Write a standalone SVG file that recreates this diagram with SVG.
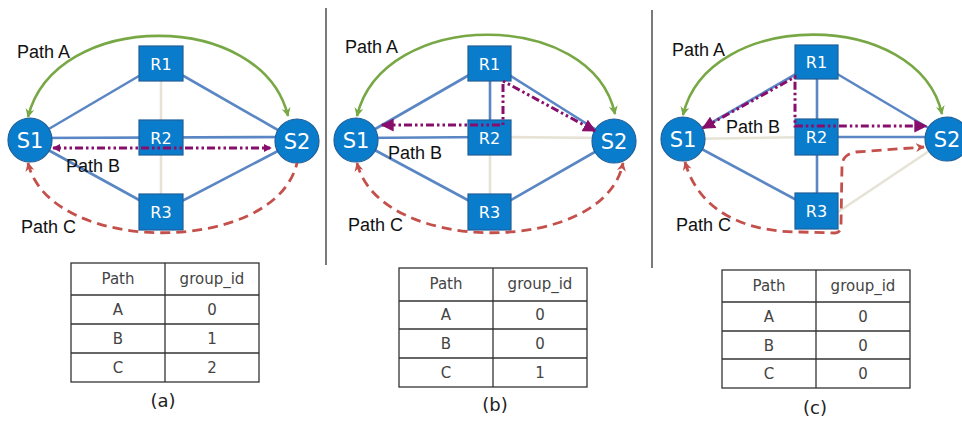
<svg xmlns="http://www.w3.org/2000/svg" width="962" height="422" viewBox="0 0 962 422">
<style>
.bg{fill:#ffffff}
.e{stroke:#5a86c4;stroke-width:2.6;fill:none}
.g{stroke:#e6e3d6;stroke-width:2.6;fill:none}
.pa{stroke:#78a845;stroke-width:2.6;fill:none}
.pb{stroke:#880e6c;stroke-width:3;fill:none;stroke-dasharray:8 3 2.5 3 2.5 3}
.pc{stroke:#c4504c;stroke-width:2.8;fill:none;stroke-dasharray:10 6}
.rn{fill:#0a7ccc;stroke:#1e5f98;stroke-width:1.2}
.sn{fill:#0a7ccc;stroke:#1e5f98;stroke-width:1.2}
.rt{font-family:"DejaVu Sans",sans-serif;font-size:16px;fill:#ffffff;text-anchor:middle}
.st{font-family:"DejaVu Sans",sans-serif;font-size:21px;fill:#ffffff;text-anchor:middle}
.lb{font-family:"Liberation Sans",Arial,sans-serif;font-size:18px;fill:#111}
.tb{fill:none;stroke:#333;stroke-width:1.3}
.tt{font-family:"DejaVu Sans",sans-serif;font-size:15px;fill:#444;text-anchor:middle}
.cap{font-family:"DejaVu Sans",sans-serif;font-size:18px;fill:#222;text-anchor:middle}
.dv{stroke:#333;stroke-width:1.3}
</style>
<defs>
<marker id="mg" viewBox="0 0 10 10" refX="9" refY="5" markerWidth="9" markerHeight="9" markerUnits="userSpaceOnUse" orient="auto-start-reverse"><path d="M0,0 L10,5 L0,10 L3,5 z" fill="#78a845"/></marker>
<marker id="mms" viewBox="0 0 10 10" refX="9" refY="5" markerWidth="8" markerHeight="8" markerUnits="userSpaceOnUse" orient="auto-start-reverse"><path d="M0,0 L10,5 L0,10 z" fill="#880e6c"/></marker>
<marker id="mml" viewBox="0 0 10 10" refX="9" refY="5" markerWidth="13" markerHeight="13" markerUnits="userSpaceOnUse" orient="auto-start-reverse"><path d="M0,0 L10,5 L0,10 z" fill="#880e6c"/></marker>
<marker id="mr" viewBox="0 0 10 10" refX="9" refY="5" markerWidth="9" markerHeight="9" markerUnits="userSpaceOnUse" orient="auto-start-reverse"><path d="M0,0 L10,5 L0,10 L3,5 z" fill="#c4504c"/></marker>
</defs>
<rect class="bg" x="0" y="0" width="962" height="422"/>

<g id="dividers">
<line class="dv" x1="326" y1="8" x2="326" y2="265"/>
<line class="dv" x1="652" y1="10" x2="652" y2="268"/>
</g>

<g id="connectors">
<!-- panel a -->
<line class="g" x1="161" y1="81" x2="161" y2="120"/>
<line class="g" x1="161" y1="155" x2="161" y2="194"/>
<line class="e" x1="30" y1="140" x2="161" y2="63"/>
<line class="e" x1="161" y1="63" x2="297" y2="141"/>
<line class="e" x1="30" y1="138" x2="297" y2="137"/>
<line class="e" x1="30" y1="140" x2="161" y2="212"/>
<line class="e" x1="161" y1="212" x2="297" y2="141"/>
<!-- panel b -->
<line class="g" x1="490" y1="137" x2="614" y2="138"/>
<line class="g" x1="490" y1="155" x2="490" y2="194"/>
<line class="e" x1="490" y1="63" x2="490" y2="120"/>
<line class="e" x1="356" y1="140" x2="490" y2="63"/>
<line class="e" x1="490" y1="63" x2="614" y2="141"/>
<line class="e" x1="356" y1="138" x2="490" y2="137"/>
<line class="e" x1="356" y1="140" x2="490" y2="212"/>
<line class="e" x1="490" y1="212" x2="614" y2="141"/>
<!-- panel c -->
<line class="g" x1="683" y1="139" x2="817" y2="137"/>
<line class="g" x1="838" y1="212" x2="947" y2="139"/>
<line class="e" x1="817" y1="62" x2="817" y2="211"/>
<line class="e" x1="683" y1="139" x2="817" y2="62"/>
<line class="e" x1="817" y1="62" x2="947" y2="139"/>
<line class="e" x1="817" y1="137" x2="947" y2="137"/>
<line class="e" x1="683" y1="139" x2="817" y2="211"/>
</g>

<g id="a-S1"><circle class="sn" cx="30" cy="140" r="22"/><text class="st" x="30" y="148">S1</text></g>
<g id="a-S2"><circle class="sn" cx="297" cy="141" r="22"/><text class="st" x="297" y="149">S2</text></g>
<g id="a-R1"><rect class="rn" x="139" y="46" width="44" height="35"/><text class="rt" x="161" y="70">R1</text></g>
<g id="a-R2"><rect class="rn" x="139" y="120" width="44" height="35"/><text class="rt" x="161" y="144">R2</text></g>
<g id="a-R3"><rect class="rn" x="139" y="194" width="44" height="36"/><text class="rt" x="161" y="218">R3</text></g>

<g id="b-S1"><circle class="sn" cx="356" cy="140" r="22"/><text class="st" x="356" y="148">S1</text></g>
<g id="b-S2"><circle class="sn" cx="614" cy="141" r="22"/><text class="st" x="614" y="149">S2</text></g>
<g id="b-R1"><rect class="rn" x="468" y="46" width="43" height="35"/><text class="rt" x="489.5" y="70">R1</text></g>
<g id="b-R2"><rect class="rn" x="468" y="120" width="43" height="35"/><text class="rt" x="489.5" y="144">R2</text></g>
<g id="b-R3"><rect class="rn" x="468" y="194" width="43" height="36"/><text class="rt" x="489.5" y="218">R3</text></g>

<g id="c-S1"><circle class="sn" cx="683" cy="139" r="22"/><text class="st" x="683" y="147">S1</text></g>
<g id="c-S2"><circle class="sn" cx="947" cy="139" r="22"/><text class="st" x="947" y="147">S2</text></g>
<g id="c-R1"><rect class="rn" x="795" y="45" width="43" height="34"/><text class="rt" x="816.5" y="68">R1</text></g>
<g id="c-R2"><rect class="rn" x="795" y="119" width="43" height="36"/><text class="rt" x="816.5" y="143">R2</text></g>
<g id="c-R3"><rect class="rn" x="795" y="193" width="43" height="36"/><text class="rt" x="816.5" y="217">R3</text></g>

<g id="path-connectors">
<path class="pa" d="M28,117 C55,9 262,9 288,116" marker-start="url(#mg)" marker-end="url(#mg)"/>
<path class="pb" d="M53,148 L271,148" marker-start="url(#mms)" marker-end="url(#mms)"/>
<path class="pc" d="M28,163 C50,256 275,256 297,163" marker-start="url(#mr)"/>
<path class="pa" d="M357,116 C383,8 592,8 615,114" marker-start="url(#mg)" marker-end="url(#mg)"/>
<path class="pb" d="M382,125 L503,125 L503,81 L595,131" marker-start="url(#mml)" marker-end="url(#mml)"/>
<path class="pc" d="M357,163 C380,256 605,256 623,163" marker-start="url(#mr)" marker-end="url(#mr)"/>
<path class="pa" d="M683,115 C708,8 918,8 942,114" marker-start="url(#mg)" marker-end="url(#mg)"/>
<path class="pb" d="M703,128 L795,77 L795,126 L926,126" marker-start="url(#mml)" marker-end="url(#mml)"/>
<path class="pc" d="M685,162 C700,215 750,232 800,232 L835,233 Q841,233 841,225 L842,165 Q843,154 856,152 L924,147" marker-start="url(#mr)" marker-end="url(#mr)"/>
</g>

<g id="labels">
<text class="lb" x="17" y="58">Path A</text>
<text class="lb" x="66" y="172">Path B</text>
<text class="lb" x="21" y="233">Path C</text>
<text class="lb" x="345" y="53">Path A</text>
<text class="lb" x="388" y="159">Path B</text>
<text class="lb" x="348" y="231">Path C</text>
<text class="lb" x="672" y="56">Path A</text>
<text class="lb" x="726" y="133">Path B</text>
<text class="lb" x="676" y="231">Path C</text>
</g>

<g id="table-a">
<rect class="tb" x="71" y="263" width="188" height="119"/>
<line class="tb" x1="165" y1="263" x2="165" y2="382"/>
<line class="tb" x1="71" y1="295" x2="259" y2="295"/>
<line class="tb" x1="71" y1="324" x2="259" y2="324"/>
<line class="tb" x1="71" y1="353" x2="259" y2="353"/>
<text class="tt" x="118" y="284">Path</text><text class="tt" x="212" y="284">group_id</text>
<text class="tt" x="118" y="315">A</text><text class="tt" x="212" y="315">0</text>
<text class="tt" x="118" y="344">B</text><text class="tt" x="212" y="344">1</text>
<text class="tt" x="118" y="373">C</text><text class="tt" x="212" y="373">2</text>
<text class="cap" x="163" y="407">(a)</text>
</g>

<g id="table-b">
<rect class="tb" x="399" y="268" width="188" height="119"/>
<line class="tb" x1="493" y1="268" x2="493" y2="387"/>
<line class="tb" x1="399" y1="301" x2="587" y2="301"/>
<line class="tb" x1="399" y1="329" x2="587" y2="329"/>
<line class="tb" x1="399" y1="358" x2="587" y2="358"/>
<text class="tt" x="446" y="289">Path</text><text class="tt" x="540" y="289">group_id</text>
<text class="tt" x="446" y="320">A</text><text class="tt" x="540" y="320">0</text>
<text class="tt" x="446" y="349">B</text><text class="tt" x="540" y="349">0</text>
<text class="tt" x="446" y="378">C</text><text class="tt" x="540" y="378">1</text>
<text class="cap" x="495" y="411">(b)</text>
</g>

<g id="table-c">
<rect class="tb" x="722" y="270" width="188" height="118"/>
<line class="tb" x1="816" y1="270" x2="816" y2="388"/>
<line class="tb" x1="722" y1="302" x2="910" y2="302"/>
<line class="tb" x1="722" y1="331" x2="910" y2="331"/>
<line class="tb" x1="722" y1="359" x2="910" y2="359"/>
<text class="tt" x="769" y="291">Path</text><text class="tt" x="863" y="291">group_id</text>
<text class="tt" x="769" y="322">A</text><text class="tt" x="863" y="322">0</text>
<text class="tt" x="769" y="351">B</text><text class="tt" x="863" y="351">0</text>
<text class="tt" x="769" y="379">C</text><text class="tt" x="863" y="379">0</text>
<text class="cap" x="815" y="414">(c)</text>
</g>
</svg>
